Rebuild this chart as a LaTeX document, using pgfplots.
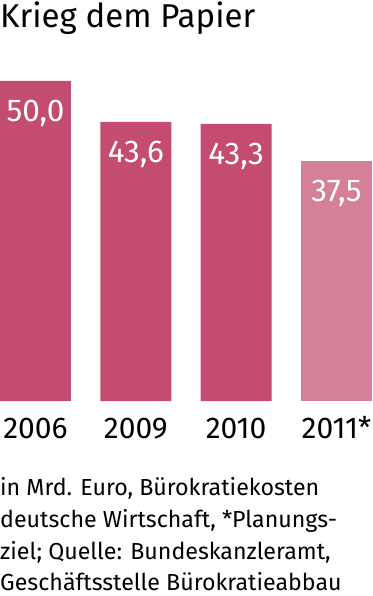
\documentclass[border=0pt]{standalone}
\usepackage{pgfplots}
\pgfplotsset{compat=1.18}
\usepackage{fontspec}
\setmainfont{Fira Sans}
\definecolor{barA}{RGB}{196,76,112}
\definecolor{barB}{RGB}{214,128,152}
\begin{document}
\begin{tikzpicture}
\useasboundingbox (0,-195pt) rectangle (372pt,401pt);
\begin{axis}[
  at={(0,0)}, anchor=south west,
  scale only axis, width=372pt, height=320pt,
  xmin=-0.3538, xmax=3.3538, ymin=0, ymax=50,
  enlargelimits=false, clip=false,
  axis line style={draw=none}, major tick length=0pt,
  ytick=\empty,
  xtick={0,1,2,3}, xticklabels={2006,2009,2010,2011*},
  xticklabel style={font=\fontsize{30}{30}\selectfont, anchor=base, inner sep=0pt, yshift=-37pt},
  ybar, bar width=71pt, bar shift=0pt,
  nodes near coords={\pgfmathprintnumber[fixed,fixed zerofill,precision=1,use comma]{\pgfplotspointmeta}},
  /pgf/number format/assume math mode=true,
  every node near coord/.append style={font=\fontsize{31.5}{31}\selectfont, text=white, anchor=north, inner sep=0pt, yshift=-19pt},
]
\addplot[draw=none, fill=barA] coordinates {(0,50.0) (1,43.6) (2,43.3)};
\addplot[draw=none, fill=barB] coordinates {(3,37.5)};
\end{axis}
\node[anchor=base west, inner sep=0pt, font=\fontsize{33}{32}\selectfont] at (0pt,373pt) {Krieg dem Papier};
\begin{scope}[every node/.style={anchor=base west, inner sep=0pt, font=\fontsize{23.2}{26}\selectfont}]
\node at (0pt,-94pt) {in Mrd. Euro, Bürokratiekosten};
\node at (0pt,-126pt) {deutsche Wirtschaft, *Planungs-};
\node at (0pt,-158pt) {ziel; Quelle: Bundeskanzleramt,};
\node at (0pt,-189pt) {Geschäftsstelle Bürokratieabbau};
\end{scope}
\end{tikzpicture}
\end{document}
